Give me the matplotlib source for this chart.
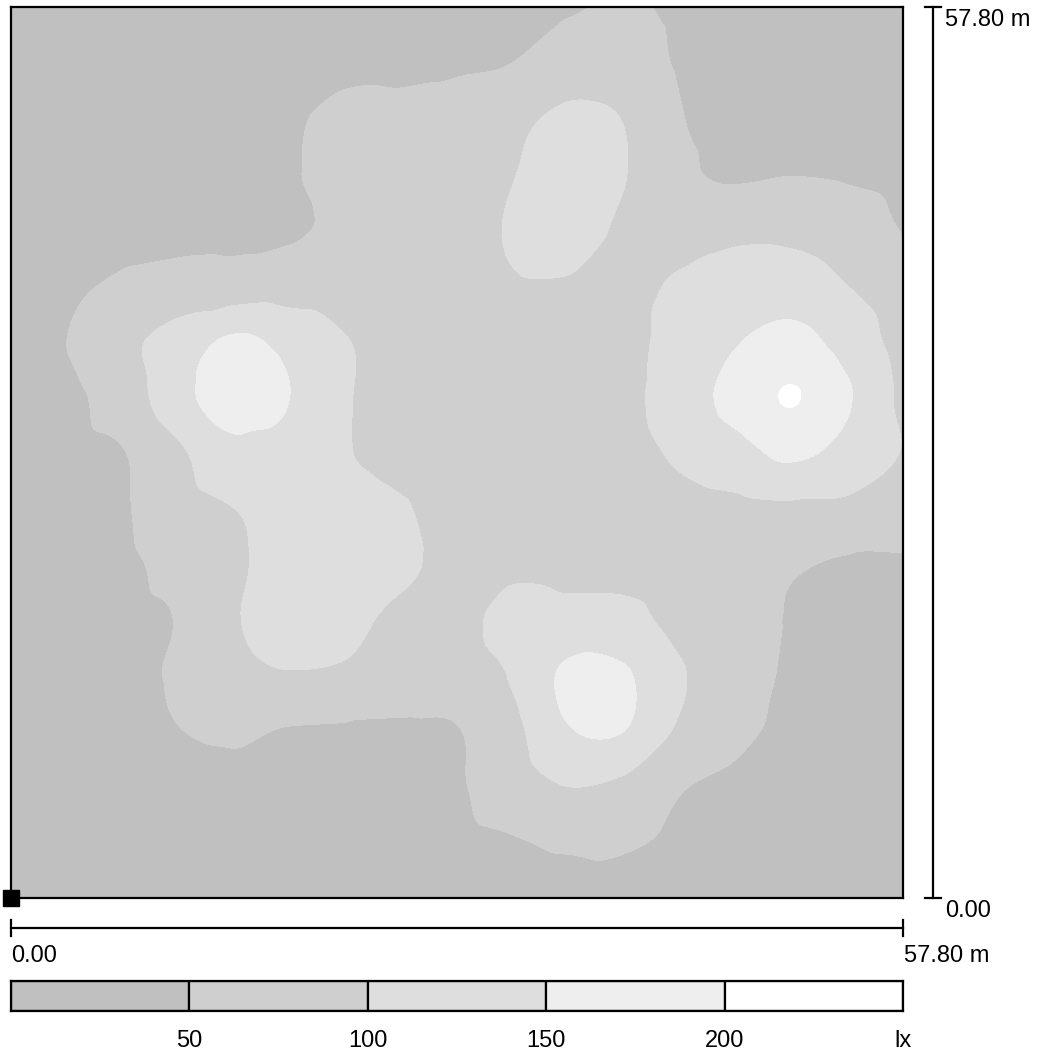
import numpy as np
import matplotlib
matplotlib.use("Agg")
import matplotlib.pyplot as plt
import matplotlib.tri as mtri

plt.rcParams['font.family'] = ['Liberation Sans', 'DejaVu Sans']

room_w = 57.8
room_h = 57.8

# illuminance in lx on a 17 x 17 grid, top row (y = room_h) first
lux_rows = [
    [25, 27, 30, 32, 35, 37, 39, 41, 42, 44, 44, 56, 42, 40, 37, 35, 33],
    [27, 29, 32, 35, 37, 40, 43, 44, 46, 50, 78, 75, 46, 43, 40, 37, 35],
    [28, 30, 33, 36, 40, 46, 58, 58, 65, 88, 108, 98, 52, 43, 41, 38, 36],
    [28, 30, 33, 36, 38, 47, 62, 65, 75, 98, 130, 102, 58, 45, 49, 46, 40],
    [30, 38, 42, 40, 41, 45, 58, 65, 72, 106, 125, 90, 75, 87, 87, 73, 48],
    [30, 44, 55, 66, 70, 75, 75, 75, 75, 95, 95, 85, 108, 127, 125, 100, 73],
    [32, 50, 86, 122, 158, 135, 102, 85, 75, 75, 76, 88, 116, 147, 165, 130, 80],
    [34, 40, 73, 132, 178, 150, 104, 82, 75, 73, 73, 88, 124, 166, 203, 155, 90],
    [36, 40, 48, 92, 135, 137, 103, 84, 76, 74, 74, 84, 108, 132, 160, 133, 98],
    [38, 42, 46, 81, 100, 115, 118, 104, 80, 75, 74, 74, 86, 89, 92, 90, 72],
    [40, 43, 44, 62, 92, 118, 123, 110, 85, 90, 85, 84, 78, 68, 55, 45, 46],
    [40, 42, 44, 52, 96, 118, 113, 88, 86, 116, 115, 115, 83, 62, 48, 42, 40],
    [40, 42, 44, 55, 86, 97, 92, 72, 74, 104, 160, 155, 105, 69, 45, 40, 38],
    [40, 40, 42, 49, 56, 47, 45, 45, 48, 87, 147, 150, 92, 58, 44, 40, 37],
    [38, 38, 39, 40, 43, 43, 42, 42, 46, 74, 100, 88, 53, 44, 40, 38, 36],
    [36, 36, 37, 38, 39, 40, 40, 41, 43, 47, 55, 54, 45, 41, 38, 36, 34],
    [34, 34, 35, 36, 37, 38, 38, 39, 38, 38, 40, 39, 38, 37, 36, 34, 32],
]

levels = [50, 100, 150, 200]
level_labels = ['50', '100', '150', '200', 'lx']
band_colors = ['#c0c0c0', '#cfcfcf', '#dedede', '#eeeeee', '#ffffff']

grid = np.array(lux_rows[::-1], dtype=float)
ny, nx = grid.shape
xs = np.linspace(0, room_w, nx)
ys = np.linspace(0, room_h, ny)
X, Y = np.meshgrid(xs, ys)

# two triangles per grid cell
tris = []
for j in range(ny - 1):
    for i in range(nx - 1):
        a = j * nx + i
        b = a + 1
        c = a + nx
        d = c + 1
        tris.append([a, b, d])
        tris.append([a, d, c])
tri = mtri.Triangulation(X.ravel(), Y.ravel(), np.array(tris))
interp = mtri.CubicTriInterpolator(tri, grid.ravel(), kind='geom')
refiner = mtri.UniformTriRefiner(tri)
tri_f, z_f = refiner.refine_field(grid.ravel(), triinterpolator=interp, subdiv=4)

fig = plt.figure(figsize=(10.38, 10.54), dpi=100)
ax = fig.add_axes([11 / 1038, 156 / 1054, 892 / 1038, 891 / 1054])
ax.tricontourf(tri_f, z_f, levels=[-1e4] + levels + [1e4], colors=band_colors)
ax.set_xlim(0, room_w)
ax.set_ylim(0, room_h)
ax.set_xticks([])
ax.set_yticks([])
for s in ax.spines.values():
    s.set_linewidth(1.6)
    s.set_color('black')
    s.set_zorder(5)

# origin marker
ax.plot([0], [0], marker='s', color='black', markersize=11, clip_on=False, zorder=6)

# dimension lines
off = 1.95
cap = 0.5
lw = 1.6
ax.plot([0, room_w], [-off, -off], color='black', lw=lw, clip_on=False)
for xv in (0, room_w):
    ax.plot([xv, xv], [-off - cap, -off + cap], color='black', lw=lw, clip_on=False)
ax.plot([room_w + off, room_w + off], [0, room_h], color='black', lw=lw, clip_on=False)
for yv in (0, room_h):
    ax.plot([room_w + off - cap, room_w + off + cap], [yv, yv], color='black', lw=lw, clip_on=False)

fs = 17
ax.text(0, -3.76, f'{0:.2f}', fontsize=fs, ha='left', va='center')
ax.text(room_w + 0.05, -3.76, f'{room_w:.2f} m', fontsize=fs, ha='left', va='center')
ax.text(room_w + off + 0.75, -0.84, f'{0:.2f}', fontsize=fs, ha='left', va='center')
ax.text(room_w + off + 0.75, room_h - 0.85, f'{room_h:.2f} m', fontsize=fs, ha='left', va='center')

# colour scale
lax = fig.add_axes([11 / 1038, 43 / 1054, 892 / 1038, 30 / 1054])
edges = [0] + levels + [250]
for k in range(len(band_colors)):
    lax.barh(0, edges[k + 1] - edges[k], left=edges[k], height=1,
             color=band_colors[k], edgecolor='black', linewidth=1.6)
lax.set_xlim(0, 250)
lax.set_ylim(-0.5, 0.5)
lax.set_yticks([])
lax.set_xticks(levels + [250])
lax.set_xticklabels(level_labels, fontsize=fs)
lax.tick_params(axis='x', length=0, pad=14)
for s in lax.spines.values():
    s.set_linewidth(1.6)

fig.savefig('out.png', dpi=100)
